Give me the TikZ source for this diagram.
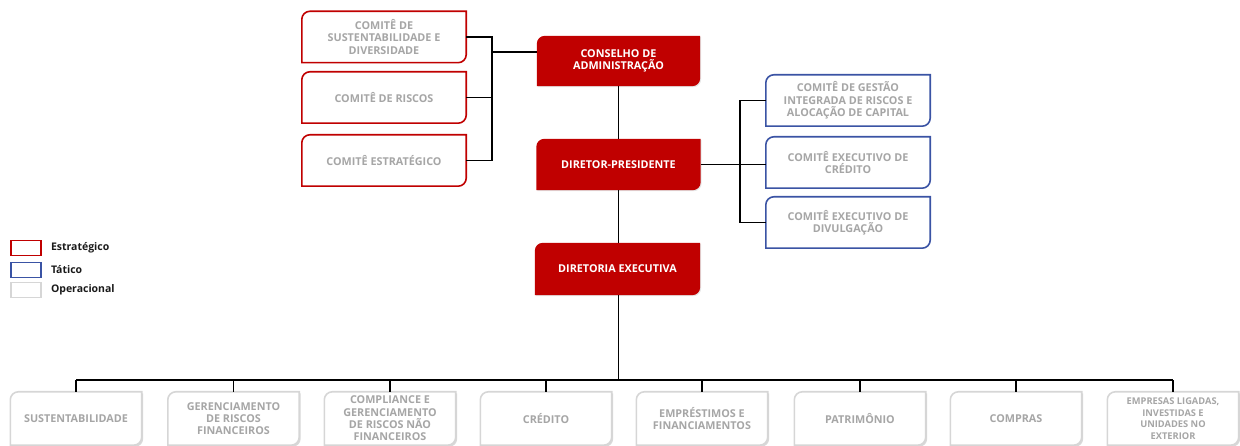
\documentclass[tikz,border=0pt]{standalone}
\usepackage{fontspec}
\setmainfont{Open Sans}
\usetikzlibrary{backgrounds,shadows}

\definecolor{vermelho}{HTML}{C00000}
\definecolor{azul}{HTML}{3A53A4}
\definecolor{cinza}{HTML}{A6A6A6}
\definecolor{cinzaclaro}{HTML}{D6D6D6}
\definecolor{escuro}{HTML}{1A1A1A}

% moldura com cantos arredondados em diagonal
\newcommand{\moldura}[1]{(#1.south west) -- ([yshift=-8pt]#1.north west)
  arc[start angle=180, end angle=90, radius=8pt] -- (#1.north east)
  -- ([yshift=8pt]#1.south east)
  arc[start angle=0, end angle=-90, radius=8pt] -- cycle}

\begin{document}
\begin{tikzpicture}[x=1pt, y=1pt,
    caixa/.style={minimum width=164pt, minimum height=51pt, align=center, inner sep=1pt,
      font=\bfseries\fontsize{10.8}{12.3}\selectfont},
    comite/.style={caixa, text=cinza},
    chefia/.style={caixa, text=white},
    area/.style={caixa, minimum width=131pt, minimum height=53pt, text=cinza},
    borda estrat/.style={draw=vermelho, line width=1.6pt, fill=white},
    borda tat/.style={draw=azul, line width=1.6pt, fill=white},
    borda oper/.style={draw=cinzaclaro, line width=1.6pt, fill=white,
      drop shadow={shadow xshift=1.5pt, shadow yshift=-1.5pt, opacity=0.3}},
    borda cheia/.style={fill=vermelho,
      drop shadow={shadow xshift=1pt, shadow yshift=-1pt, opacity=0.2}},
    ligacao/.style={black, line width=1.8pt},
    legenda/.style={minimum width=30pt, minimum height=15pt, line width=1.6pt, fill=white},
    rotulo/.style={inner sep=0pt, text=escuro, font=\bfseries\fontsize{10.5}{12}\selectfont}]

    \useasboundingbox (0,0) rectangle (1240,446);

    % conselho e comites
    \node[comite] (cs) at (384,409) {COMITÊ DE\\SUSTENTABILIDADE E\\DIVERSIDADE};
    \node[comite] (cr) at (384,348.5) {COMITÊ DE RISCOS};
    \node[comite] (ce) at (384,285.5) {COMITÊ ESTRATÉGICO};

    \node[chefia, minimum width=163pt, minimum height=50pt] (ca) at (618.5,385) {CONSELHO DE\\ADMINISTRAÇÃO};
    \node[chefia] (dp) at (618.5,281.5) {DIRETOR-PRESIDENTE};
    \node[chefia, minimum width=165pt, minimum height=52pt] (de) at (617.5,177) {DIRETORIA EXECUTIVA};

    \node[comite] (b1) at (848,345.5) {COMITÊ DE GESTÃO\\INTEGRADA DE RISCOS E\\ALOCAÇÃO DE CAPITAL};
    \node[comite] (b2) at (848,283.5) {COMITÊ EXECUTIVO DE\\CRÉDITO};
    \node[comite] (b3) at (848,223.5) {COMITÊ EXECUTIVO DE\\DIVULGAÇÃO};

    % areas operacionais
    \node[area] (o1) at (76,27.5) {SUSTENTABILIDADE};
    \node[area] (o2) at (233.5,27.5) {GERENCIAMENTO\\DE RISCOS\\FINANCEIROS};
    \node[area] (o3) at (390,27.5) {COMPLIANCE E\\GERENCIAMENTO\\DE RISCOS NÃO\\FINANCEIROS};
    \node[area] (o4) at (546,27.5) {CRÉDITO};
    \node[area] (o5) at (702,27.5) {EMPRÉSTIMOS E\\FINANCIAMENTOS};
    \node[area] (o6) at (860,27.5) {PATRIMÔNIO};
    \node[area] (o7) at (1016,27.5) {COMPRAS};
    \node[area, font=\bfseries\fontsize{9.3}{11.5}\selectfont] (o8) at (1173,27.5) {EMPRESAS LIGADAS,\\INVESTIDAS E\\UNIDADES NO\\EXTERIOR};

    \begin{pgfonlayer}{background}
        \foreach \n in {cs,cr,ce} \path[borda estrat] \moldura{\n};
        \foreach \n in {b1,b2,b3} \path[borda tat] \moldura{\n};
        \foreach \n in {ca,dp,de} \path[borda cheia] \moldura{\n};
        \foreach \n in {o1,o2,o3,o4,o5,o6,o7,o8} \path[borda oper] \moldura{\n};
    \end{pgfonlayer}

    % ligacoes
    \coordinate (lb) at (492,0);
    \coordinate (rb) at (740,0);
    \coordinate (jb) at (0,66);

    \draw[ligacao] (cs.east) -- (cs.east -| lb) -- (ce.east -| lb) -- (ce.east);
    \draw[ligacao] (cr.east) -- (cr.east -| lb);
    \draw[ligacao] ([yshift=9pt]ca.west -| lb) -- ([yshift=9pt]ca.west);
    \draw[ligacao] (ca.south) -- (dp.north);
    \draw[ligacao] (dp.south) -- (dp.south |- de.north);

    \draw[ligacao] (dp.east) -- (dp.east -| b2.west);
    \draw[ligacao] (b1.west) -- (b1.west -| rb) -- (b3.west -| rb) -- (b3.west);

    \draw[ligacao] (dp.south |- de.south) -- (dp.south |- jb);
    \draw[ligacao] (o1.north |- jb) -- (o8.north |- jb);
    \foreach \i in {1,...,8}
        \draw[ligacao] (o\i.north) -- (o\i.north |- jb);

    % legenda
    \node[legenda, draw=vermelho] (lg1) at (26,198) {};
    \node[legenda, draw=azul] (lg2) at (26,176) {};
    \node[legenda, draw=cinzaclaro] (lg3) at (26,156) {};
    \node[rotulo, anchor=west] (t1) at ([xshift=9pt]lg1.east) {Estratégico};
    \node[rotulo, anchor=west] (t2) at ([xshift=9pt]lg2.east) {Tático};
    \node[rotulo, anchor=west] (t3) at ([xshift=9pt]lg3.east) {Operacional};
\end{tikzpicture}
\end{document}
